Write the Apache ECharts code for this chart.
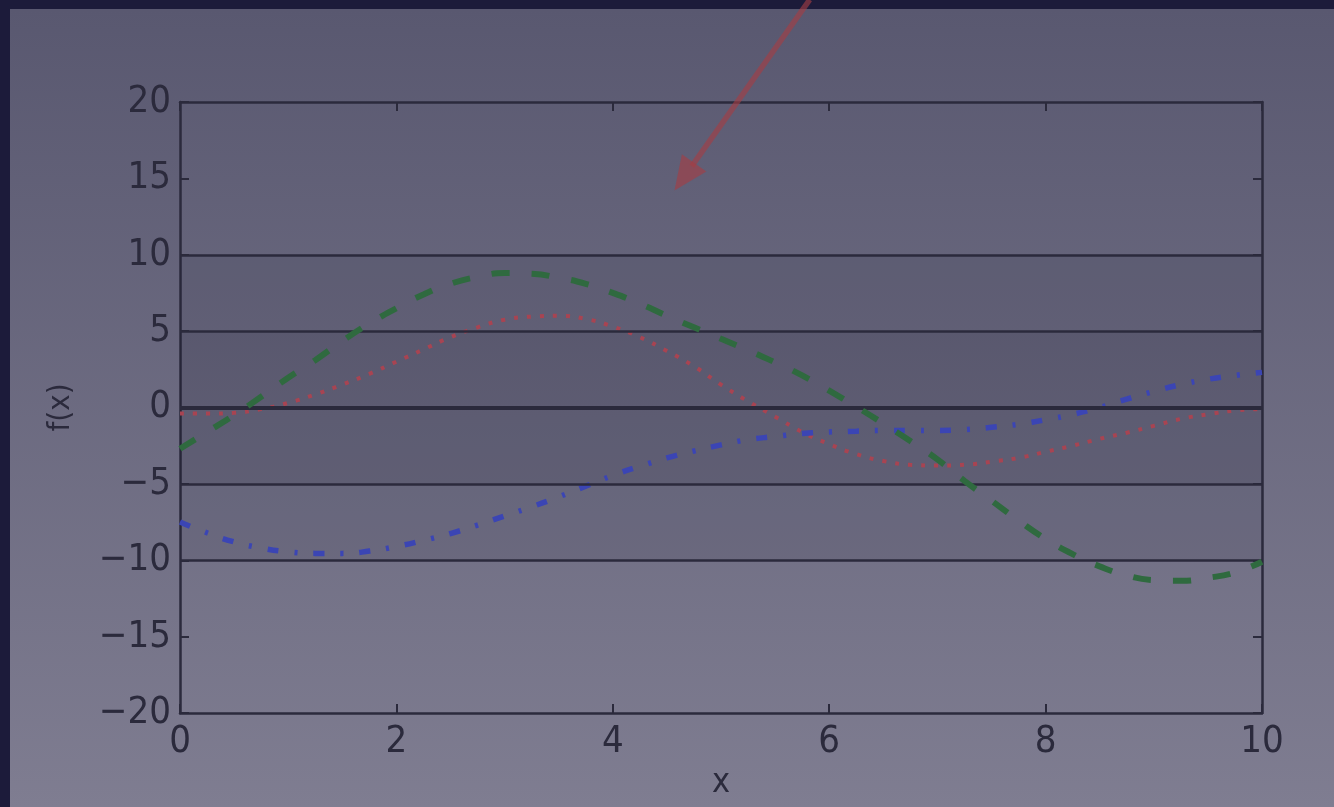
<!DOCTYPE html>
<html>
<head>
<meta charset="utf-8">
<script src="https://cdn.jsdelivr.net/npm/echarts@6/dist/echarts.min.js"></script>
<style>
  html, body { margin: 0; padding: 0; background: #1c1b3a; }
  #chart { width: 1334px; height: 807px; }
</style>
</head>
<body>
<div id="chart"></div>
<script>
const xs = [0, 0.25, 0.5, 0.75, 1, 1.25, 1.5, 1.75, 2, 2.25, 2.5, 2.75, 3, 3.25, 3.5, 3.75, 4, 4.25, 4.5, 4.75,
  5, 5.25, 5.5, 5.75, 6, 6.25, 6.5, 6.75, 7, 7.25, 7.5, 7.75, 8, 8.25, 8.5, 8.75, 9, 9.25, 9.5, 9.75, 10]
// green dashed curve
const greenVals = [-2.7, -1.6, -0.5, 0.7, 1.95, 3.1, 4.35, 5.5, 6.5, 7.4, 8.1, 8.55, 8.8, 8.75, 8.5, 8.1, 7.5, 6.8, 6.0, 5.25,
  4.5, 3.75, 2.95, 2.1, 1.1, 0.05, -1.05, -2.2, -3.4, -4.8, -6.1, -7.4, -8.6, -9.6, -10.4, -11.0, -11.3, -11.35, -11.15, -10.8, -10.1]
// red dotted curve
const redVals = [-0.4, -0.4, -0.35, -0.1, 0.3, 0.85, 1.5, 2.2, 3.0, 3.8, 4.6, 5.25, 5.75, 5.95, 6.0, 5.8, 5.3, 4.6, 3.7, 2.7,
  1.5, 0.4, -0.6, -1.6, -2.4, -3.05, -3.5, -3.75, -3.8, -3.75, -3.55, -3.3, -2.9, -2.5, -2.05, -1.65, -1.2, -0.75, -0.45, -0.2, -0.1]
// blue dash-dot curve
const blueVals = [-7.5, -8.2, -8.8, -9.2, -9.45, -9.55, -9.55, -9.4, -9.1, -8.7, -8.25, -7.7, -7.1, -6.5, -5.85, -5.15, -4.45, -3.85, -3.3, -2.85,
  -2.45, -2.1, -1.9, -1.7, -1.6, -1.55, -1.5, -1.5, -1.5, -1.45, -1.3, -1.1, -0.8, -0.45, 0.0, 0.55, 1.05, 1.5, 1.85, 2.1, 2.3]
// horizontal reference lines and shaded bands
const hLines = [-10, -5, 0, 5, 10]
const bands = [[-10, 10], [-5, 5]]
// annotation arrow (data coords): tail -> tip
const arrowTail = [5.82, 26.7]
const arrowTip = [4.57, 14.2]

const fontFam = '"DejaVu Sans Condensed", "DejaVu Sans", sans-serif'
const inkColor = '#2b2a3c'

function minusFmt (v) {
  return v < 0 ? '\u2212' + Math.abs(v) : String(v)
}

const chart = echarts.init(document.getElementById('chart'))

const axisCommon = {
  type: 'value',
  axisLine: { show: true, onZero: false, lineStyle: { color: inkColor, width: 2.5 } },
  axisTick: { show: true, inside: true, length: 9, lineStyle: { color: inkColor, width: 2 } },
  splitLine: { show: false }
}

const panelRect = {
  type: 'rect',
  z: -10,
  silent: true,
  shape: { x: 10, y: 9, width: 1324, height: 798 },
  style: {
    fill: new echarts.graphic.LinearGradient(0, 0, 0, 1, [
      { offset: 0, color: '#595870' },
      { offset: 1, color: '#7f7d91' }
    ])
  }
}

chart.setOption({
  backgroundColor: '#1c1b3a',
  animation: false,
  graphic: [panelRect],
  grid: { left: 180, right: 72, top: 102, bottom: 94, outerBoundsMode: 'none', containLabel: false },
  xAxis: [
    Object.assign({}, axisCommon, {
      min: 0, max: 10, interval: 2,
      position: 'bottom',
      name: 'x',
      nameLocation: 'middle',
      nameGap: 52,
      nameTextStyle: { color: inkColor, fontSize: 34, fontFamily: fontFam },
      axisLabel: { color: inkColor, fontSize: 38, fontFamily: fontFam, margin: 10 }
    }),
    Object.assign({}, axisCommon, {
      min: 0, max: 10, interval: 2,
      position: 'top',
      axisLabel: { show: false }
    })
  ],
  yAxis: [
    Object.assign({}, axisCommon, {
      min: -20, max: 20, interval: 5,
      position: 'left',
      name: 'f(x)',
      nameLocation: 'middle',
      nameGap: 104,
      nameRotate: 90,
      nameTextStyle: { color: inkColor, fontSize: 31, fontFamily: fontFam },
      axisLabel: { color: inkColor, fontSize: 38, fontFamily: fontFam, margin: 9, formatter: minusFmt }
    }),
    Object.assign({}, axisCommon, {
      min: -20, max: 20, interval: 5,
      position: 'right',
      axisLabel: { show: false }
    })
  ],
  series: [
    {
      name: 'bands',
      type: 'line',
      data: [],
      silent: true,
      markArea: {
        silent: true,
        itemStyle: { color: 'rgba(25, 20, 40, 0.09)' },
        data: bands.map(b => [{ yAxis: b[0] }, { yAxis: b[1] }])
      },
      markLine: {
        silent: true,
        symbol: 'none',
        label: { show: false },
        lineStyle: { color: inkColor, type: 'solid', width: 2.5 },
        data: hLines.map(v => ({ yAxis: v, lineStyle: { color: inkColor, type: 'solid', width: v === 0 ? 4 : 2.5 } }))
      }
    },
    {
      name: 'green',
      type: 'line',
      z: 5,
      smooth: true,
      showSymbol: false,
      data: xs.map((x, i) => [x, greenVals[i]]),
      lineStyle: { color: '#2f6a3f', width: 6, type: [18, 22] }
    },
    {
      name: 'red',
      type: 'line',
      z: 4,
      smooth: true,
      showSymbol: false,
      data: xs.map((x, i) => [x, redVals[i]]),
      lineStyle: { color: '#a84452', width: 4, type: [4, 9] }
    },
    {
      name: 'blue',
      type: 'line',
      z: 4,
      smooth: true,
      showSymbol: false,
      data: xs.map((x, i) => [x, blueVals[i]]),
      lineStyle: { color: '#3b45b4', width: 5.5, type: [11, 16, 3, 16] }
    }
  ]
})

// annotation arrow, placed through the axes
function drawArrow () {
  const p0 = chart.convertToPixel({ xAxisIndex: 0, yAxisIndex: 0 }, arrowTail)
  const p1 = chart.convertToPixel({ xAxisIndex: 0, yAxisIndex: 0 }, arrowTip)
  const dx = p1[0] - p0[0]
  const dy = p1[1] - p0[1]
  const len = Math.sqrt(dx * dx + dy * dy)
  const ux = dx / len
  const uy = dy / len
  const headLen = 34
  const halfW = 15
  const bx = p1[0] - ux * headLen
  const by = p1[1] - uy * headLen
  const arrowColor = 'rgba(165, 62, 68, 0.62)'
  chart.setOption({
    graphic: [panelRect, {
      type: 'line',
      z: 100,
      silent: true,
      shape: { x1: p0[0], y1: p0[1], x2: bx + ux * 4, y2: by + uy * 4 },
      style: { stroke: arrowColor, lineWidth: 5.5 }
    }, {
      type: 'polygon',
      z: 100,
      silent: true,
      shape: {
        points: [
          [p1[0], p1[1]],
          [bx - uy * halfW, by + ux * halfW],
          [bx + uy * halfW, by - ux * halfW]
        ]
      },
      style: { fill: arrowColor }
    }]
  })
}
drawArrow()
</script>
</body>
</html>
